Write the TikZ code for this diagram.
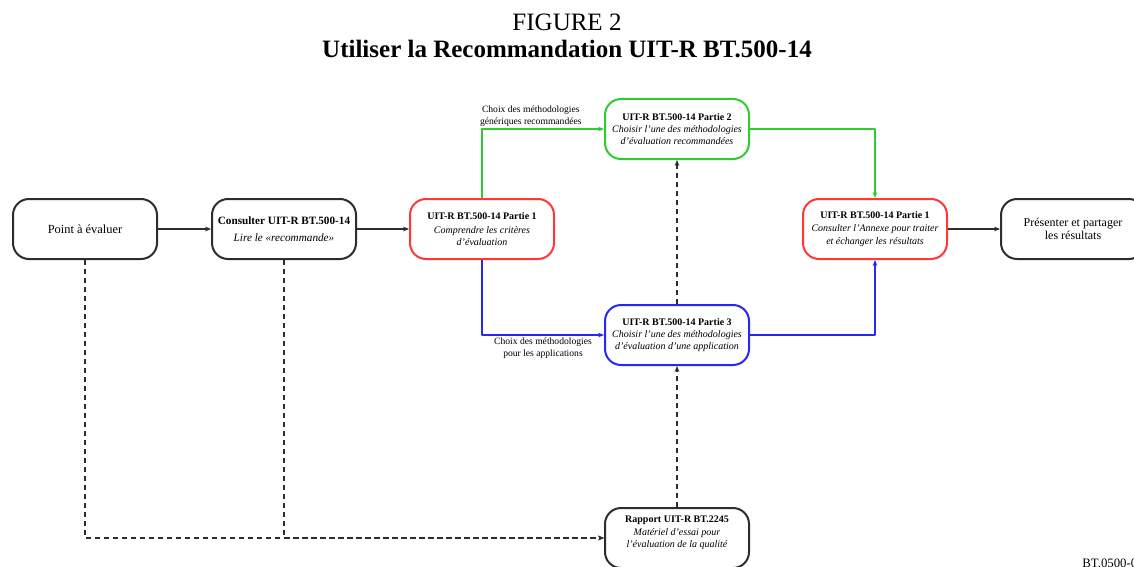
\documentclass[tikz,border=0pt]{standalone}
\usepackage{fontspec}
\setmainfont{Liberation Serif}
\usetikzlibrary{arrows.meta}

\definecolor{boxgrey}{RGB}{45,45,45}
\definecolor{boxred}{RGB}{255,55,55}
\definecolor{boxgreen}{RGB}{45,205,45}
\definecolor{boxblue}{RGB}{40,40,245}

\begin{document}
\begin{tikzpicture}[
    x = 0.5pt, y = -0.5pt,
    line join=round,
    box/.style = {draw=boxgrey, line width=1pt, rounded corners=8pt, fill=white,
                  minimum width=72pt, minimum height=30pt, inner sep=1pt,
                  align=center, font=\fontsize{5}{6.2}\selectfont},
    redbox/.style = {box, draw=boxred},
    greenbox/.style = {box, draw=boxgreen},
    bluebox/.style = {box, draw=boxblue},
    link/.style = {line width=0.75pt, -{Stealth[length=3pt,width=2.4pt]}},
    dashlink/.style = {link, boxgrey, dash pattern=on 2.5pt off 2pt},
    lbl/.style = {font=\fontsize{4.8}{5.8}\selectfont, align=center, inner sep=1pt}
]

\useasboundingbox (0,0) rectangle (1134,567);

% titles
\node (fig) at (567,22) {\fontsize{12.5}{15}\selectfont FIGURE 2};
\node (ttl) at (567,49) {\fontsize{12.5}{15}\selectfont\bfseries Utiliser la Recommandation UIT-R BT.500-14};

% boxes
\node[box] (point) at (85,229) {\fontsize{6.2}{7.5}\selectfont Point à évaluer};
\node[box] (cons) at (284,229) {{\fontsize{5.6}{6.8}\selectfont\bfseries Consulter UIT-R BT.500-14}\\[2pt]
    {\fontsize{5.6}{6.8}\selectfont\itshape Lire le «recommande»}};
\node[redbox] (p1a) at (482,229) {\bfseries UIT-R BT.500-14 Partie 1\\[1pt]
    \itshape Comprendre les critères\\ \itshape d'évaluation};
\node[greenbox] (p2) at (677,129) {\bfseries UIT-R BT.500-14 Partie 2\\
    \itshape Choisir l'une des méthodologies\\ \itshape d'évaluation recommandées};
\node[bluebox] (p3) at (677,335) {\bfseries UIT-R BT.500-14 Partie 3\\
    \itshape Choisir l'une des méthodologies\\ \itshape d'évaluation d'une application};
\node[redbox] (p1b) at (875,229) {\bfseries UIT-R BT.500-14 Partie 1\\[0.5pt]
    \itshape Consulter l'Annexe pour traiter\\[0.5pt] \itshape et échanger les résultats};
\node[box] (pres) at (1073,229) {\fontsize{6}{7.2}\selectfont Présenter et partager\\
    \fontsize{6}{7.2}\selectfont les résultats};
\node[box] (rap) at (677,538) {\bfseries Rapport UIT-R BT.2245\\
    \itshape Matériel d'essai pour\\ \itshape l'évaluation de la qualité\\};

\node[anchor=west, inner sep=0pt] (code) at (1082,563) {\fontsize{6.4}{8}\selectfont BT.0500-02};

% solid links
\draw[link, boxgrey] (point) -- (cons);
\draw[link, boxgrey] (cons) -- (p1a);
\draw[link, boxgrey] (p1b) -- (pres);

\draw[link, boxgreen] (p1a.north) |- node[lbl, pos=0.7, above, black]
    {Choix des méthodologies\\ génériques recommandées} (p2.west);
\draw[link, boxblue] (p1a.south) |- node[lbl, pos=0.75, below, black]
    {Choix des méthodologies\\ pour les applications} (p3.west);
\draw[link, boxgreen] (p2.east) -| (p1b.north);
\draw[link, boxblue] (p3.east) -| (p1b.south);

% dashed links
\draw[dashlink] (p3.north) -- (p2.south);
\draw[dashlink] (rap.north) -- (p3.south);
\draw[dashlink] (point.south) |- (rap.west);
\draw[dashlink] (cons.south) |- (rap.west);

\end{tikzpicture}
\end{document}
